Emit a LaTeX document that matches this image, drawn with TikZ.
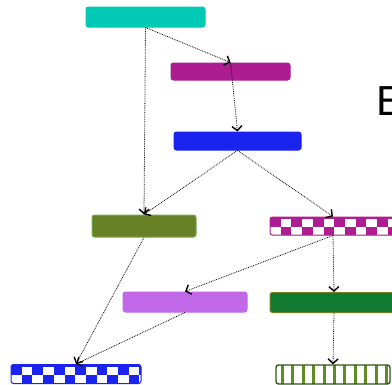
\documentclass[tikz,border=0pt]{standalone}
\usepackage{fontspec}
\newfontfamily\lblfont{Liberation Sans}
\usetikzlibrary{arrows.meta,calc}

\definecolor{cTeal}{RGB}{0,201,182}
\definecolor{cMag}{RGB}{173,28,145}
\definecolor{cBlue}{RGB}{27,36,238}
\definecolor{cOlive}{RGB}{104,128,38}
\definecolor{cOliveEdge}{RGB}{112,176,76}
\definecolor{cLav}{RGB}{192,104,232}
\definecolor{cGreen}{RGB}{16,122,48}
\definecolor{cGreenEdge}{RGB}{118,128,32}
\definecolor{cStripe}{RGB}{100,138,36}
\definecolor{cStripeEdge}{RGB}{40,88,20}

\tikzset{
	box/.style={rounded corners=2.5pt, inner sep=0pt, line width=1pt},
	link/.style={->, densely dotted, line width=0.8pt},
	chk/.style={box, fill=#1, draw=#1,
		path picture={
			\foreach \i in {0,...,11} {
				\fill[white, sharp corners] ([xshift=\i*21.4pt+10.7pt, yshift=-2pt]path picture bounding box.north west) rectangle ++(10.7pt,-8.3pt);
				\fill[white, sharp corners] ([xshift=\i*21.4pt, yshift=-10.3pt]path picture bounding box.north west) rectangle ++(10.7pt,-8pt);
			}
		}},
	stripes/.style={box, fill=white, draw=cStripeEdge, line width=1.4pt,
		path picture={
			\foreach \i in {0,...,11}
				\fill[cStripe, sharp corners] ([xshift=\i*10.4pt+5pt]path picture bounding box.north west) rectangle ++(3pt,-30pt);
		}},
}

\begin{document}
\begin{tikzpicture}[>={Straight Barb[length=4.5pt,width=10pt,line width=1.4pt]}, x=1pt, y=-1pt]
	\useasboundingbox (0,0) rectangle (392,384);
	% boxes, top to bottom
	\node[box, fill=cTeal, draw=cTeal, minimum width=119pt, minimum height=20pt] (Bteal) at (145.5,17) {};
	\node[box, fill=cMag, draw=cMag, minimum width=119pt, minimum height=17pt] (Bmag) at (230.5,71.5) {};
	\node[box, fill=cBlue, draw=cBlue, minimum width=127pt, minimum height=18pt] (Bblue) at (237.5,141) {};
	\node[box, fill=cOlive, draw=cOliveEdge, minimum width=104pt, minimum height=22pt] (Bolive) at (144,226) {};
	\node[chk=cMag, minimum width=126pt, minimum height=18pt] (Bchk) at (333,226) {};
	\node[box, fill=cLav, draw=cLav, minimum width=124pt, minimum height=20pt] (Blav) at (185,302) {};
	\node[box, fill=cGreen, draw=cGreenEdge, minimum width=128pt, minimum height=20pt] (Bgreen) at (334,302.5) {};
	\node[chk=cBlue, minimum width=130pt, minimum height=19pt] (Bbchk) at (76,374) {};
	\node[stripes, minimum width=114pt, minimum height=19pt] (Bstripe) at (333,374.5) {};
	\node[anchor=base west, inner sep=0pt, font=\lblfont\fontsize{42}{42}\selectfont] (lblE) at (376,115) {E};
	% links
	\draw[link] (Bteal.south) -- (Bmag.north);
	\draw[link] (Bteal.south) -- (Bolive.north);
	\draw[link] (Bmag.north) -- (Bblue.north);
	\draw[link] (Bblue.south) -- (Bolive.north);
	\draw[link] (Bblue.south) -- (Bchk.north);
	\draw[link] (Bchk.south) -- (Blav.north);
	\draw[link] (Bchk.south) -- (Bgreen.north);
	\draw[link] (Bolive.south) -- (Bbchk.north);
	\draw[link] (Blav.south) -- (Bbchk.north);
	\draw[link] (Bgreen.south) -- (Bstripe.north);
\end{tikzpicture}
\end{document}
